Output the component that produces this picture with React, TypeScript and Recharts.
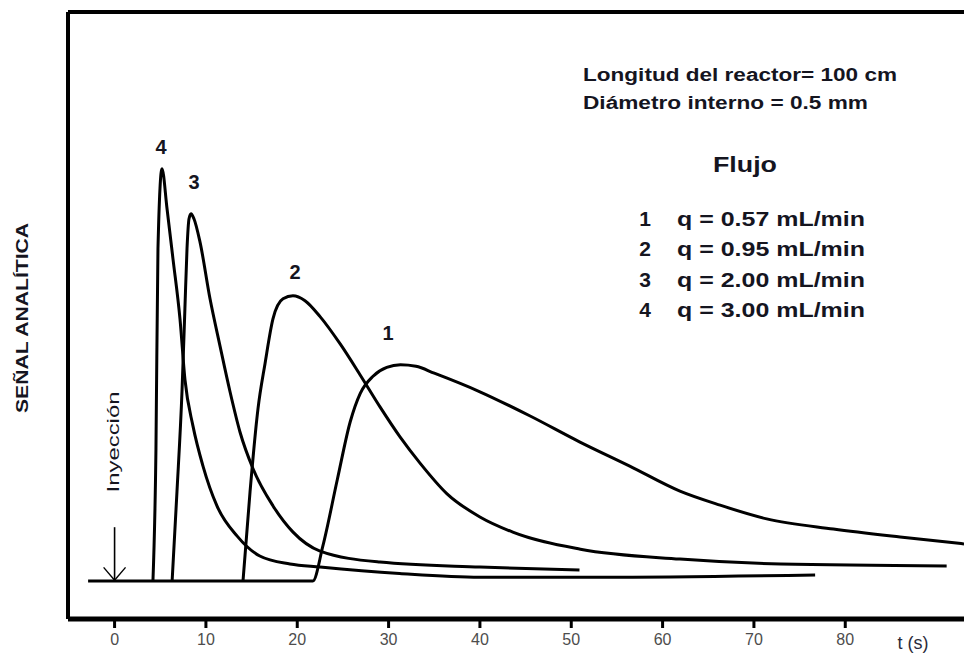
import React from 'react';
import { LineChart, Line, XAxis, YAxis, ReferenceLine } from 'recharts';

// tiempo (s) y señal (u.a.)
const curve1T = [-2.9, 21.7, 22.8, 24.4, 25.8, 26.9, 28.3, 29.8, 31.3, 33.0, 35.0, 40, 45.5, 50.9, 56.4, 61.9, 66.3, 71.4, 78.7, 86, 93];
const curve1S = [0, 0, 0.92, 2.69, 4.2, 4.95, 5.4, 5.63, 5.7, 5.66, 5.48, 4.99, 4.35, 3.67, 3.03, 2.37, 2.0, 1.64, 1.37, 1.16, 0.98];

const curve2T = [14.06, 14.83, 15.7, 16.47, 17.34, 18.44, 19.53, 20.85, 22.5, 24.7, 26.87, 29.06, 31.25, 33.44, 36.4, 40, 43.6, 51, 61.9, 72.9, 91.1];
const curve2S = [0, 2.35, 4.54, 5.73, 6.91, 7.44, 7.52, 7.39, 6.97, 6.25, 5.44, 4.59, 3.8, 3.11, 2.3, 1.69, 1.29, 0.84, 0.58, 0.45, 0.4];

const curve3T = [6.3, 6.83, 7.38, 7.7, 7.93, 8.15, 8.37, 8.69, 9.35, 10.45, 11.54, 12.64, 13.73, 15.16, 17.35, 19.54, 22.5, 29.05, 40, 50.9];
const curve3S = [0, 2.35, 4.99, 7.18, 8.76, 9.55, 9.68, 9.55, 8.94, 7.44, 6.2, 4.99, 3.93, 2.96, 1.98, 1.29, 0.79, 0.5, 0.37, 0.29];

const curve4T = [4.2, 4.53, 4.75, 5.19, 5.74, 6.39, 7.16, 7.71, 8.58, 9.68, 11.21, 13.4, 15.9, 19.2, 22.5, 31.2, 40, 53.2, 76.7];
const curve4S = [0, 3.48, 8.76, 10.87, 9.82, 8.5, 6.91, 5.3, 4.09, 3.03, 1.98, 1.19, 0.66, 0.45, 0.37, 0.2, 0.1, 0.1, 0.16];

const xTicks = [0, 10, 20, 30, 40, 50, 60, 70, 80];
const flowLabels = ['1', '2', '3', '4'];
const flowValues = ['q = 0.57 mL/min', 'q = 0.95 mL/min', 'q = 2.00 mL/min', 'q = 3.00 mL/min'];

const toPoints = (t: number[], s: number[]) => t.map((v, i) => ({ t: v, s: s[i] }));

const curves = [
  toPoints(curve1T, curve1S),
  toPoints(curve2T, curve2S),
  toPoints(curve3T, curve3S),
  toPoints(curve4T, curve4S),
];

const FONT = '"Liberation Sans", Arial, sans-serif';
const INK = '#15151f';

const App: React.FC = () => {
  return (
    <div style={{ position: 'absolute', left: 0, top: 0, width: 964, height: 656, background: '#fff' }}>
      <LineChart width={964} height={656} margin={{ top: 12, right: 0, bottom: 0, left: 68 }}>
        <XAxis
          type="number"
          dataKey="t"
          domain={[-5.1, 93]}
          allowDataOverflow
          ticks={xTicks}
          height={37}
          axisLine={{ stroke: '#000', strokeWidth: 5 }}
          tickLine={{ stroke: '#000', strokeWidth: 3 }}
          tickSize={9}
          tickMargin={6}
          tick={{ fill: '#4d4d4d', fontSize: 16, fontFamily: FONT }}
        />
        <YAxis type="number" dataKey="s" domain={[-1, 15]} allowDataOverflow width={0} tick={false} tickLine={false} axisLine={false} />
        {/* marco */}
        <ReferenceLine y={15} stroke="#000" strokeWidth={4} />
        <ReferenceLine x={-5.1} stroke="#000" strokeWidth={4} />
        {/* flecha de inyección */}
        <ReferenceLine segment={[{ x: 0, y: 1.42 }, { x: 0, y: 0 }]} stroke="#000" strokeWidth={1.6} />
        <ReferenceLine segment={[{ x: -1.2, y: 0.36 }, { x: 0, y: 0.02 }]} stroke="#000" strokeWidth={1.4} />
        <ReferenceLine segment={[{ x: 1.2, y: 0.36 }, { x: 0, y: 0.02 }]} stroke="#000" strokeWidth={1.4} />
        {curves.map((d, i) => (
          <Line
            key={i}
            data={d}
            dataKey="s"
            type="monotone"
            stroke="#000"
            strokeWidth={3}
            dot={false}
            activeDot={false}
            isAnimationActive={false}
          />
        ))}
      </LineChart>
      <svg width={964} height={656} style={{ position: 'absolute', left: 0, top: 0, pointerEvents: 'none' }}>
        <g fontFamily={FONT} fill={INK}>
          <text transform="translate(28,318) rotate(-90)" textAnchor="middle" fontWeight="bold" fontSize={16}
            textLength={190} lengthAdjust="spacingAndGlyphs">
            SEÑAL ANALÍTICA
          </text>
          <text transform="translate(119,442) rotate(-90)" textAnchor="middle" fontSize={17}
            textLength={101} lengthAdjust="spacingAndGlyphs">
            Inyección
          </text>
          <text x={583} y={81} fontWeight="bold" fontSize={18} textLength={314} lengthAdjust="spacingAndGlyphs">
            Longitud del reactor= 100 cm
          </text>
          <text x={583} y={109} fontWeight="bold" fontSize={18} textLength={285} lengthAdjust="spacingAndGlyphs">
            Diámetro interno = 0.5 mm
          </text>
          <text x={713} y={172} fontWeight="bold" fontSize={22} textLength={64} lengthAdjust="spacingAndGlyphs">Flujo</text>
          {flowLabels.map((n, i) => (
            <g key={n} fontWeight="bold" fontSize={21}>
              <text x={645} y={226 + i * 30.3} textAnchor="middle">{n}</text>
              <text x={677} y={226 + i * 30.3} textLength={188} lengthAdjust="spacingAndGlyphs">{flowValues[i]}</text>
            </g>
          ))}
          <g fontWeight="bold" fontSize={20} textAnchor="middle">
            <text x={161} y={154}>4</text>
            <text x={194} y={189}>3</text>
            <text x={295} y={279}>2</text>
            <text x={388} y={340}>1</text>
          </g>
          <text x={913} y={649} textAnchor="middle" fontSize={18} fill="#2a2a3a">t (s)</text>
        </g>
      </svg>
    </div>
  );
};

export default App;
